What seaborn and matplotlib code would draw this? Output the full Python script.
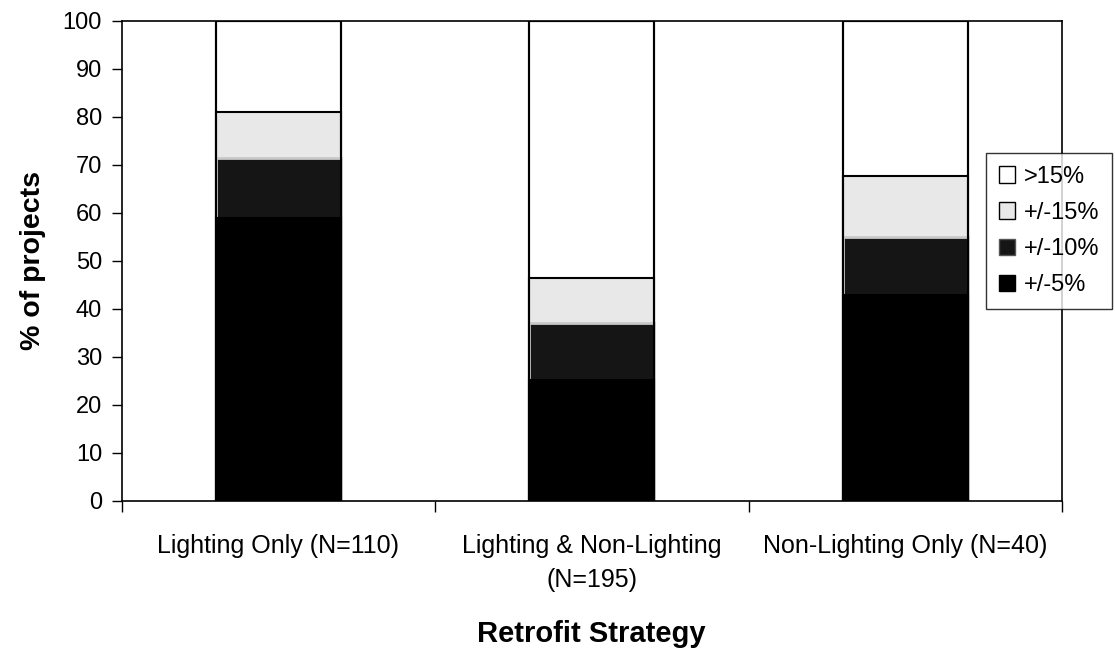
import numpy as np
import pandas as pd
import matplotlib
matplotlib.use('Agg')
import matplotlib.pyplot as plt
import seaborn as sns
from matplotlib.patches import Patch

# Data (% of projects per savings-accuracy band)
categories = ['Lighting Only (N=110)', 'Lighting & Non-Lighting\n(N=195)', 'Non-Lighting Only (N=40)']
pm5 = [58.8, 25.2, 42.9]
pm10 = [12.7, 11.8, 12.0]
pm15 = [9.4, 9.4, 12.8]
gt15 = [19.1, 53.6, 32.3]

band_names = ['+/-5%', '+/-10%', '+/-15%', '>15%']
band_faces = ['#000000', '#151515', '#e8e8e8', '#ffffff']
band_edges = ['#000000', '#c8c8c8', '#000000', '#000000']

sns.set_theme(style='white')
plt.rcParams['font.family'] = ['Liberation Sans', 'DejaVu Sans']
plt.rcParams['text.color'] = 'black'
plt.rcParams['axes.labelcolor'] = 'black'
plt.rcParams['xtick.color'] = 'black'
plt.rcParams['ytick.color'] = 'black'

# cumulative heights so bars can be overlaid largest first
stack = np.cumsum(np.array([pm5, pm10, pm15, gt15]), axis=0)
df = pd.DataFrame({'strategy': categories})
for name, vals in zip(band_names, stack):
    df[name] = vals

fig, ax = plt.subplots(figsize=(11.15, 6.5), dpi=100)
fig.subplots_adjust(left=0.109, right=0.9525, top=0.968, bottom=0.23)

for name, face, edge in reversed(list(zip(band_names, band_faces, band_edges))):
    lw = 2.0 if name == '+/-10%' else 1.5
    sns.barplot(data=df, x='strategy', y=name, color=face, saturation=1,
                width=0.4, edgecolor=edge, linewidth=lw, ax=ax, zorder=2)

# re-outline the full bars in black
sns.barplot(data=df, x='strategy', y='>15%', fill=False, width=0.4,
            edgecolor='black', linewidth=1.5, ax=ax, zorder=3)

ax.set_ylim(0, 100)
ax.set_xlim(-0.5, 2.5)
ax.set_yticks(np.arange(0, 101, 10))
ax.tick_params(axis='y', which='major', direction='out', length=7, width=1,
               color='black', labelsize=17, left=True, pad=7)
ax.set_xticks(range(len(categories)))
ax.set_xticklabels(categories, linespacing=1.55)
ax.tick_params(axis='x', which='major', length=0, labelsize=18, pad=24)
ax.set_xticks([-0.5, 0.5, 1.5, 2.5], minor=True)
ax.tick_params(axis='x', which='minor', direction='out', length=8, width=1,
               color='black', bottom=True)

for side in ['left', 'bottom', 'top', 'right']:
    ax.spines[side].set_visible(True)
    ax.spines[side].set_color('black')
    ax.spines[side].set_linewidth(1.2)

ax.set_ylabel('% of projects', fontsize=20.5, fontweight='bold', labelpad=12)
ax.set_xlabel('Retrofit Strategy', fontsize=21, fontweight='bold')
ax.xaxis.set_label_coords(0.5, -0.278)
ax.xaxis.label.set_verticalalignment('center')

handles = [Patch(facecolor=f, edgecolor='black' if n != '+/-10%' else '#555555', linewidth=1, label=n)
           for n, f in reversed(list(zip(band_names, band_faces)))]
leg = fig.legend(handles=handles, loc='upper left', bbox_to_anchor=(0.884, 0.765),
                 frameon=True, fancybox=False, edgecolor='black', fontsize=17,
                 handlelength=0.7, handleheight=0.7, handletextpad=0.35,
                 labelspacing=0.6, borderpad=0.55, borderaxespad=0)
leg.get_frame().set_linewidth(1)

fig.savefig('out.png', dpi=100, facecolor='white')
